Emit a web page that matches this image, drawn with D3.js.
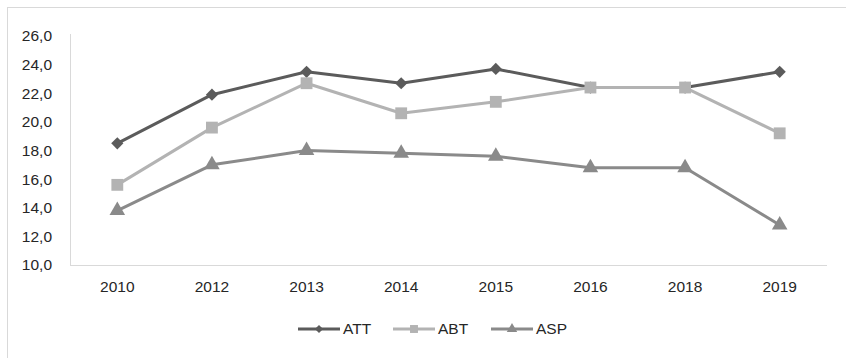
<!DOCTYPE html>
<html>
<head>
<meta charset="utf-8">
<script src="https://cdn.jsdelivr.net/npm/d3@7"></script>
<style>
  html, body { margin: 0; padding: 0; background: #fff; }
  svg { display: block; font-family: "Liberation Sans", Arial, Helvetica, sans-serif; }
</style>
</head>
<body>
<svg id="chart" width="846" height="358"></svg>
<script>
// Years on the category axis
const years = ["2010", "2012", "2013", "2014", "2015", "2016", "2018", "2019"];

// Series values
const att = [18.5, 21.9, 23.5, 22.7, 23.7, 22.4, 22.4, 23.5];
const abt = [15.6, 19.6, 22.7, 20.6, 21.4, 22.4, 22.4, 19.2];
const asp = [13.8, 17.0, 18.0, 17.8, 17.6, 16.8, 16.8, 12.8];

// Value-axis ticks
const yTicks = [10, 12, 14, 16, 18, 20, 22, 24, 26];

const seriesNames = ["ATT", "ABT", "ASP"];

const series = [
  { name: seriesNames[0], values: att, color: "#5b5b5b", symbol: d3.symbolDiamond2, size: 95 },
  { name: seriesNames[1], values: abt, color: "#b3b3b3", symbol: d3.symbolSquare,   size: 140 },
  { name: seriesNames[2], values: asp, color: "#8a8a8a", symbol: d3.symbolTriangle, size: 105 }
];

const svg = d3.select("#chart");
const W = 846, H = 358;
const fontSize = 15.5;

// outer frame
svg.append("rect")
  .attr("x", 7.5).attr("y", 7.5)
  .attr("width", W).attr("height", H)
  .attr("fill", "none").attr("stroke", "#d9d9d9").attr("stroke-width", 1);

const plot = { left: 70, right: 827, top: 36, bottom: 265 };

const x = d3.scaleBand().domain(years).range([plot.left, plot.right]);
const y = d3.scaleLinear().domain([10, 26]).range([plot.bottom, plot.top]);

// y axis
const yAxis = svg.append("g")
  .attr("transform", `translate(${plot.left},0)`)
  .call(d3.axisLeft(y).tickValues(yTicks).tickSize(0).tickPadding(18)
    .tickFormat(d => d3.format(".1f")(d).replace(".", ",")));
yAxis.select(".domain").attr("stroke", "#d9d9d9").attr("stroke-width", 1)
  .attr("d", `M0.5,${plot.top - 2}V${plot.bottom + 0.5}`);
yAxis.selectAll("text").attr("fill", "#262626").attr("font-size", fontSize);

// x axis
const xAxis = svg.append("g")
  .attr("transform", `translate(0,${plot.bottom})`)
  .call(d3.axisBottom(x).tickSize(0).tickPadding(16));
xAxis.select(".domain").attr("stroke", "#d9d9d9").attr("stroke-width", 1)
  .attr("d", `M${plot.left},0.5H${plot.right}`);
xAxis.selectAll("text").attr("fill", "#262626").attr("font-size", fontSize);

const cx = d => x(d) + x.bandwidth() / 2;

const line = d3.line()
  .x((d, i) => cx(years[i]))
  .y(d => y(d));

series.forEach(s => {
  svg.append("path")
    .datum(s.values)
    .attr("fill", "none")
    .attr("stroke", s.color)
    .attr("stroke-width", 3)
    .attr("stroke-linejoin", "round")
    .attr("d", line);

  svg.append("g").selectAll("path")
    .data(s.values)
    .join("path")
    .attr("transform", (d, i) => `translate(${cx(years[i])},${y(d)})`)
    .attr("d", d3.symbol().type(s.symbol).size(s.size))
    .attr("fill", s.color);
});

// legend
const legendY = 329;
const legendX = [298, 393, 491];
series.forEach((s, i) => {
  const g = svg.append("g").attr("transform", `translate(${legendX[i]},${legendY})`);
  g.append("line").attr("x1", 0).attr("x2", 42).attr("y1", 0).attr("y2", 0)
    .attr("stroke", s.color).attr("stroke-width", 3);
  g.append("path").attr("transform", "translate(21,0)")
    .attr("d", d3.symbol().type(s.symbol).size(s.size * 0.45))
    .attr("fill", s.color);
  g.append("text").attr("x", 45).attr("y", 0).attr("dy", "0.35em")
    .attr("font-size", fontSize).attr("fill", "#262626").text(s.name);
});
</script>
</body>
</html>
